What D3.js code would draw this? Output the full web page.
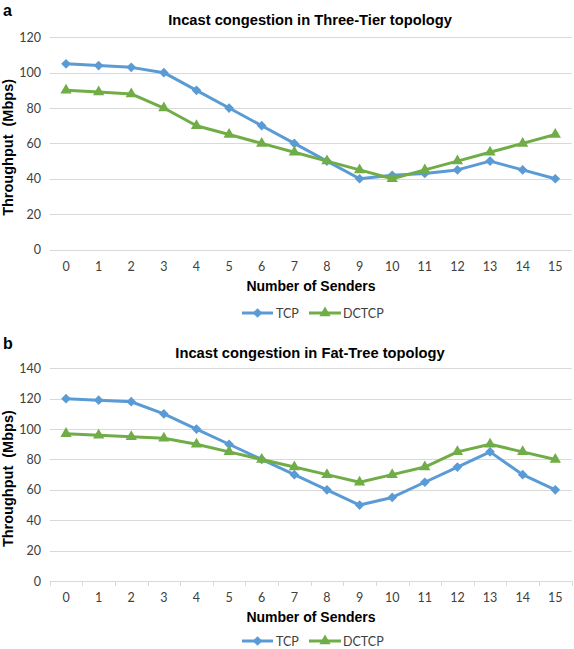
<!DOCTYPE html>
<html><head><meta charset="utf-8">
<script src="https://cdn.jsdelivr.net/npm/d3@7"></script>
<style>body{margin:0;background:#fff}svg{display:block}</style>
</head><body>
<svg id="c" width="574" height="649"></svg>
<script>
const senders = [0,1,2,3,4,5,6,7,8,9,10,11,12,13,14,15];
const seriesNames = ["TCP","DCTCP"];
const threeTierTCP   = [105,104,103,100,90,80,70,60,50,40,42,43,45,50,45,40];
const threeTierDCTCP = [90,89,88,80,70,65,60,55,50,45,40,45,50,55,60,65];
const fatTreeTCP     = [120,119,118,110,100,90,80,70,60,50,55,65,75,85,70,60];
const fatTreeDCTCP   = [97,96,95,94,90,85,80,75,70,65,70,75,85,90,85,80];
const threeTierTicks = [0,20,40,60,80,100,120];
const fatTreeTicks   = [0,20,40,60,80,100,120,140];

const colors = {TCP:"#5B9BD5", DCTCP:"#70AD47"};
const svg = d3.select("#c");
const labelFont = "Lato, 'Open Sans', sans-serif";
const boldFont = "'Liberation Sans', Arial, sans-serif";

function drawChart(o){
  const g = svg.append("g");
  const x = d3.scaleBand().domain(senders).range([49.7,571.6]);
  const y = d3.scaleLinear().domain([0, o.ticks[o.ticks.length-1]]).range([o.y0, o.yTop]);
  g.append("text").attr("x",3).attr("y",o.letterY).text(o.letter)
    .attr("font-family",boldFont).attr("font-weight","bold").attr("font-size",16).attr("fill","#000");
  g.append("text").attr("x",310).attr("y",o.titleY).attr("text-anchor","middle").text(o.title)
    .attr("font-family",boldFont).attr("font-weight","bold").attr("font-size",14.7).attr("fill","#000");
  g.selectAll(".grid").data(o.ticks).join("line")
    .attr("x1",49.7).attr("x2",571.6).attr("y1",d=>Math.round(y(d))+0.5).attr("y2",d=>Math.round(y(d))+0.5)
    .attr("stroke","#D9D9D9").attr("stroke-width",1);
  g.selectAll(".yl").data(o.ticks).join("text")
    .attr("x",41).attr("y",d=>y(d)+4.5).attr("text-anchor","end").text(d=>d)
    .attr("font-family",labelFont).attr("font-size",12.5).attr("fill","#404040");
  if(o.xTicks){
    const bounds = senders.map(s=>x(s)).concat([x(15)+x.bandwidth()]);
    g.selectAll(".xt").data(bounds).join("line")
      .attr("x1",d=>Math.round(d)+0.5).attr("x2",d=>Math.round(d)+0.5)
      .attr("y1",Math.round(o.y0)).attr("y2",Math.round(o.y0)+5)
      .attr("stroke","#D9D9D9").attr("stroke-width",1);
  }
  g.selectAll(".xl").data(senders).join("text")
    .attr("x",d=>x(d)+x.bandwidth()/2).attr("y",o.xLabelY).attr("text-anchor","middle").text(d=>d)
    .attr("font-family",labelFont).attr("font-size",12.5).attr("fill","#404040");
  g.append("text").attr("x",311).attr("y",o.xTitleY).attr("text-anchor","middle").text("Number of Senders")
    .attr("font-family",boldFont).attr("font-weight","bold").attr("font-size",14).attr("fill","#000");
  g.append("text").attr("transform",`translate(13,${(o.y0+o.yTop)/2+4}) rotate(-90)`).attr("text-anchor","middle")
    .attr("xml:space","preserve").style("white-space","pre").text("Throughput  (Mbps)")
    .attr("font-family",boldFont).attr("font-weight","bold").attr("font-size",14.5).attr("fill","#000");
  const line = d3.line().x((d,i)=>x(senders[i])+x.bandwidth()/2).y(d=>y(d));
  const sets = [["TCP",o.tcp],["DCTCP",o.dctcp]];
  sets.forEach(([name,vals])=>{
    g.append("path").datum(vals).attr("d",line).attr("fill","none")
      .attr("stroke",colors[name]).attr("stroke-width",3).attr("stroke-linejoin","round");
    const sym = d3.symbol().type(name==="TCP"?d3.symbolDiamond2:d3.symbolTriangle).size(name==="TCP"?60:55);
    g.selectAll(".m"+name).data(vals).join("path")
      .attr("transform",(d,i)=>`translate(${x(senders[i])+x.bandwidth()/2},${y(d)})`)
      .attr("d",sym).attr("fill",colors[name]);
  });
  const leg = [{name:"TCP",x1:242,x2:273,tx:276},{name:"DCTCP",x1:309,x2:341,tx:343}];
  leg.forEach(l=>{
    g.append("line").attr("x1",l.x1).attr("x2",l.x2).attr("y1",o.legY).attr("y2",o.legY)
      .attr("stroke",colors[l.name]).attr("stroke-width",3);
    const sym = d3.symbol().type(l.name==="TCP"?d3.symbolDiamond2:d3.symbolTriangle).size(l.name==="TCP"?60:55);
    g.append("path").attr("transform",`translate(${(l.x1+l.x2)/2},${o.legY})`).attr("d",sym).attr("fill",colors[l.name]);
    g.append("text").attr("x",l.tx).attr("y",o.legY+4.5).text(l.name)
      .attr("font-family",labelFont).attr("font-size",12.5).attr("fill","#404040");
  });
}

drawChart({letter:"a", letterY:16, title:"Incast congestion in Three-Tier topology", titleY:25,
  ticks:threeTierTicks, y0:249.5, yTop:37.3, xLabelY:271, xTitleY:291, legY:313,
  tcp:threeTierTCP, dctcp:threeTierDCTCP, xTicks:false});
drawChart({letter:"b", letterY:349, title:"Incast congestion in Fat-Tree topology", titleY:358,
  ticks:fatTreeTicks, y0:581, yTop:368.3, xLabelY:602, xTitleY:622, legY:641,
  tcp:fatTreeTCP, dctcp:fatTreeDCTCP, xTicks:true});
</script>
</body></html>
